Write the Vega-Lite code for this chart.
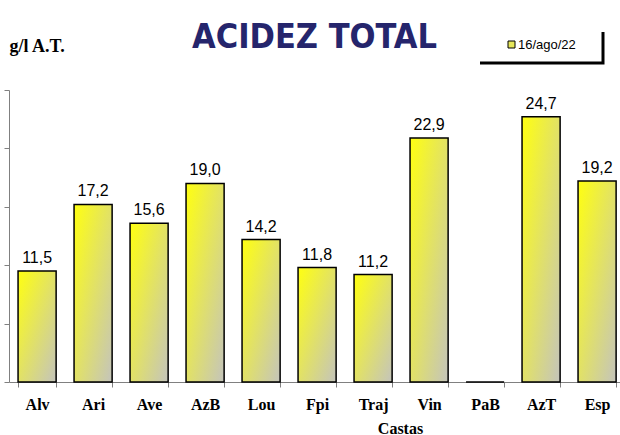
{
  "$schema": "https://vega.github.io/schema/vega-lite/v6.json",
  "width": 611,
  "height": 292,
  "autosize": "none",
  "padding": {"left": 9, "top": 90, "right": 0, "bottom": 53},
  "background": "white",
  "title": {
    "text": "ACIDEZ TOTAL",
    "font": "'Liberation Sans Narrow', 'DejaVu Sans Condensed', 'Liberation Sans', sans-serif",
    "fontSize": 34,
    "fontWeight": "bold",
    "color": "#25256c",
    "anchor": "middle",
    "frame": "group",
    "baseline": "alphabetic",
    "offset": -56
  },
  "data": {
    "values": [
      {"casta": "Alv", "valor": 11.5, "serie": "16/ago/22"},
      {"casta": "Ari", "valor": 17.2, "serie": "16/ago/22"},
      {"casta": "Ave", "valor": 15.6, "serie": "16/ago/22"},
      {"casta": "AzB", "valor": 19.0, "serie": "16/ago/22"},
      {"casta": "Lou", "valor": 14.2, "serie": "16/ago/22"},
      {"casta": "Fpi", "valor": 11.8, "serie": "16/ago/22"},
      {"casta": "Traj", "valor": 11.2, "serie": "16/ago/22"},
      {"casta": "Vin", "valor": 22.9, "serie": "16/ago/22"},
      {"casta": "PaB", "valor": 0, "serie": "16/ago/22"},
      {"casta": "AzT", "valor": 24.7, "serie": "16/ago/22"},
      {"casta": "Esp", "valor": 19.2, "serie": "16/ago/22"}
    ]
  },
  "encoding": {
    "x": {
      "field": "casta",
      "type": "nominal",
      "sort": null,
      "scale": {"paddingInner": 0.32, "paddingOuter": 0.1155, "align": 0.7},
      "axis": {
        "title": "Castas",
        "titleFont": "Liberation Serif",
        "titleFontSize": 16,
        "titleFontWeight": "bold",
        "titleColor": "black",
        "titleX": 391,
        "titleY": 51,
        "titleAlign": "center",
        "titleBaseline": "alphabetic",
        "labelFont": "Liberation Serif",
        "labelFontSize": 16,
        "labelFontWeight": "bold",
        "labelColor": "black",
        "labelAngle": 0,
        "labelPadding": 9,
        "tickBand": "extent",
        "tickSize": 5,
        "tickColor": "#808080",
        "domainColor": "#808080",
        "grid": false
      }
    },
    "y": {
      "field": "valor",
      "type": "quantitative",
      "scale": {"domain": [2, 27], "clamp": true, "nice": false, "zero": false},
      "axis": {
        "values": [2, 7, 12, 17, 22, 27],
        "labels": false,
        "grid": false,
        "tickSize": 5,
        "tickColor": "#808080",
        "domainColor": "#808080",
        "title": "g/l A.T.",
        "titleAngle": 0,
        "titleAlign": "left",
        "titleBaseline": "alphabetic",
        "titleX": 0,
        "titleY": -39,
        "titleFont": "Liberation Serif",
        "titleFontSize": 18,
        "titleFontWeight": "bold",
        "titleColor": "black"
      }
    }
  },
  "layer": [
    {
      "mark": {
        "type": "bar",
        "stroke": "black",
        "strokeWidth": 1.5,
        "fill": {
          "gradient": "linear",
          "x1": 0, "y1": 0, "x2": 1, "y2": 1,
          "stops": [
            {"offset": 0, "color": "#ffff10"},
            {"offset": 1, "color": "#c4c4bc"}
          ]
        }
      }
    },
    {
      "mark": {"type": "square", "opacity": 0},
      "encoding": {
        "color": {
          "field": "serie",
          "type": "nominal",
          "scale": {"range": ["#e6e65a"]},
          "legend": {
            "title": "—",
            "titleOrient": "right",
            "titleColor": "transparent",
            "titleFontSize": 13,
            "titlePadding": 3,
            "orient": "none",
            "legendX": 468,
            "legendY": -63,
            "symbolType": "square",
            "symbolSize": 49,
            "symbolStrokeColor": "black",
            "symbolStrokeWidth": 1,
            "symbolOpacity": 1,
            "symbolOffset": 17,
            "labelOffset": 0,
            "labelFont": "Liberation Sans",
            "labelFontSize": 13,
            "labelColor": "black",
            "padding": 11
          }
        }
      }
    },
    {
      "transform": [{"filter": "datum.valor > 0"}],
      "mark": {
        "type": "text",
        "baseline": "alphabetic",
        "dy": -8,
        "font": "Liberation Sans",
        "fontSize": 16,
        "color": "black"
      },
      "encoding": {
        "text": {"field": "valor", "type": "quantitative", "format": ".1f"}
      }
    }
  ],
  "config": {
    "view": {"stroke": null},
    "locale": {
      "number": {"decimal": ",", "thousands": ".", "grouping": [3], "currency": ["", " €"]}
    },
    "legend": {
      "strokeColor": "black",
      "strokeWidth": 3,
      "strokeDash": [0, 131, 154, 100]
    }
  }
}
